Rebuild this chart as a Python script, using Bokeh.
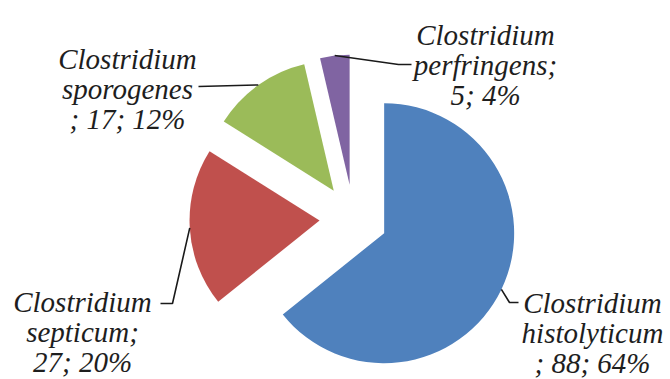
import numpy as np
from bokeh.plotting import figure
from bokeh.models import ColumnDataSource, Range1d
from bokeh.core.properties import value
from bokeh.embed import file_html
from bokeh.resources import INLINE

# ---- data ----
genus = ["Clostridium", "Clostridium", "Clostridium", "Clostridium"]
species = ["histolyticum", "septicum", "sporogenes", "perfringens"]
counts = [88, 27, 17, 5]
percents = [64, 20, 12, 4]

# ---- style / layout ----
colors = ["#4F81BD", "#C0504D", "#9BBB59", "#8064A2"]
semicolon_wraps = [True, False, True, False]   # where Excel wrapped the "; " separator
W, H = 670, 379
CX, CY = 353, H - 218
R = 130
EXPLODE = 34
FONT_PX = 29
LINE_SP = 30
# label block: centre x, first baseline (screen y)
label_pos = [(592, 302), (82, 301), (127, 58), (485, 34)]
# leader line elbow and end (screen coords)
leader_pts = [
    [(509, 302), (518, 302)],
    [(172, 303), (160, 303)],
    [(198, 86), (198, 86)],
    [(398, 64), (411, 64)],
]

total = sum(counts)
cum = np.cumsum([0] + counts)
theta_s = cum[:-1] / total * 2 * np.pi      # clockwise from 12 o'clock
theta_e = cum[1:] / total * 2 * np.pi
theta_m = (theta_s + theta_e) / 2

wx = CX + EXPLODE * np.sin(theta_m)
wy = CY + EXPLODE * np.cos(theta_m)

wedges = ColumnDataSource(dict(
    x=wx, y=wy,
    start=np.pi / 2 - theta_s, end=np.pi / 2 - theta_e,
    color=colors,
))

p = figure(width=W, height=H, x_range=Range1d(0, W), y_range=Range1d(0, H),
           output_backend="svg", toolbar_location=None, min_border=0)
p.axis.visible = False
p.grid.visible = False
p.outline_line_color = None
p.background_fill_color = "white"
p.border_fill_color = "white"

p.wedge(x="x", y="y", radius=R, start_angle="start", end_angle="end",
        direction="clock", fill_color="color", line_color=None, source=wedges)

# leader lines from arc midpoints
xs, ys = [], []
for i in range(len(counts)):
    ax = wx[i] + R * np.sin(theta_m[i])
    ay = wy[i] + R * np.cos(theta_m[i])
    px = [ax] + [pt[0] for pt in leader_pts[i]]
    py = [ay] + [H - pt[1] for pt in leader_pts[i]]
    xs.append(px)
    ys.append(py)
p.multi_line(xs=xs, ys=ys, line_color="#1a1a1a", line_width=1.6)

# labels
tx, ty, tt = [], [], []
for i in range(len(counts)):
    if semicolon_wraps[i]:
        lines = [genus[i], species[i], f"; {counts[i]}; {percents[i]}%"]
    else:
        lines = [genus[i], species[i] + ";", f"{counts[i]}; {percents[i]}%"]
    cx, by = label_pos[i]
    for k, ln in enumerate(lines):
        tx.append(cx)
        ty.append(H - (by + k * LINE_SP))
        tt.append(ln)
p.text(x=tx, y=ty, text=tt, text_font=value("Liberation Serif"),
       text_font_style="italic", text_font_size=f"{FONT_PX}px",
       text_align="center", text_baseline="alphabetic", text_color="#1e1e1e")

open("out.html", "w").write(file_html(p, INLINE))
